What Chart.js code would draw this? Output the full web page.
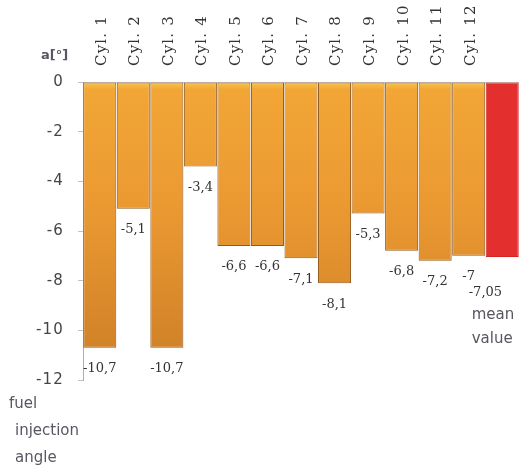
<!DOCTYPE html>
<html>
<head>
<meta charset="utf-8">
<script src="https://cdn.jsdelivr.net/npm/chart.js@4/dist/chart.umd.min.js"></script>
<style>
  html, body { margin: 0; padding: 0; background: #fff; }
  #wrap { width: 519px; height: 471px; position: relative; }
</style>
</head>
<body>
<div id="wrap"><canvas id="myChart"></canvas></div>
<script>
// DATA PART

var cylinders = ['Cyl. 1', 'Cyl. 2', 'Cyl. 3', 'Cyl. 4', 'Cyl. 5', 'Cyl. 6',
                 'Cyl. 7', 'Cyl. 8', 'Cyl. 9', 'Cyl. 10', 'Cyl. 11', 'Cyl. 12', ''];
var angles = [-10.7, -5.1, -10.7, -3.4, -6.6, -6.6, -7.1, -8.1, -5.3, -6.8, -7.2, -7, -7.05];
var meanIndex = 12;
var yTicks = [0, -2, -4, -6, -8, -10, -12];

// label helpers

function fmt(v){
    return String(v).replace('.', ',');
}

function barFill(context){
    var chart = context.chart;
    var area = chart.chartArea;
    if(context.dataIndex === meanIndex){
        return '#e3302f';
    }
    if(!area){
        return '#eb9a32';
    }
    var g = chart.ctx.createLinearGradient(0, area.top, 0, area.bottom);
    g.addColorStop(0, '#f8c650');
    g.addColorStop(0.025, '#f2a636');
    g.addColorStop(0.4, '#eb9a32');
    g.addColorStop(1, '#cd7d26');
    return g;
}

// PLUGIN PART

// the axis labels in the picture are spaced out a little
var spacing = {
    id: 'spacing',
    beforeDraw(chart){
        chart.ctx.letterSpacing = '1.2px';
    },
    afterDraw(chart){
        chart.ctx.letterSpacing = '0px';
    }
};

var valueLabels = {
    id: 'valueLabels',
    afterDatasetsDraw(chart){
        var ctx = chart.ctx;
        var meta = chart.getDatasetMeta(0);
        ctx.save();
        ctx.letterSpacing = '0px';
        ctx.fillStyle = '#333';
        ctx.font = '13px "DejaVu Serif", serif';
        ctx.textBaseline = 'middle';
        meta.data.forEach((bar, i) => {
            if(i === meanIndex){
                ctx.textAlign = 'left';
                var lx = bar.x - bar.width / 2 - 17;
                ctx.fillText(fmt(angles[i]), lx, bar.y + 36);
                ctx.fillStyle = '#5a5560';
                ctx.font = '15px "DejaVu Sans", sans-serif';
                ctx.fillText('mean', lx + 3, bar.y + 58);
                ctx.fillText('value', lx + 3, bar.y + 82);
            }else{
                ctx.textAlign = 'center';
                ctx.fillText(fmt(angles[i]), bar.x, bar.y + 21);
            }
        });

        // axis captions
        ctx.fillStyle = '#5a5560';
        ctx.font = '15px "DejaVu Sans", sans-serif';
        ctx.textAlign = 'left';
        ctx.fillText('fuel', 9, 404);
        ctx.fillText('injection', 15, 431);
        ctx.fillText('angle', 15, 458);
        ctx.font = 'bold 13px "DejaVu Sans", sans-serif';
        ctx.fillText('a[°]', 41, 56);
        ctx.restore();
    }
};

// CHART PART

var ctx = document.getElementById('myChart').getContext('2d');
var myChart = new Chart(ctx, {
    type: 'bar',
    data: {
        labels: cylinders,
        datasets: [{
            data: angles,
            backgroundColor: barFill,
            borderColor: (c) => c.dataIndex === meanIndex ? '#d42426' : '#94591c',
            borderWidth: 1,
            borderSkipped: false,
            barPercentage: 1,
            categoryPercentage: 0.985
        }]
    },
    options: {
        responsive: true,
        maintainAspectRatio: false,
        animation: false,
        layout: { padding: { top: 0, right: 0, bottom: 91, left: 0 } },
        plugins: {
            legend: { display: false },
            tooltip: { enabled: false }
        },
        scales: {
            x: {
                position: 'top',
                grid: { display: false },
                border: { display: true, color: '#c8c8c8', width: 1 },
                afterFit: (scale) => { scale.height = 82; },
                ticks: {
                    minRotation: 90,
                    maxRotation: 90,
                    autoSkip: false,
                    padding: 8,
                    labelOffset: 20,
                    color: '#333',
                    font: { family: '"DejaVu Serif", serif', size: 15 }
                }
            },
            y: {
                min: -12,
                max: 0,
                afterFit: (scale) => { scale.width = 83; },
                afterBuildTicks: (scale) => {
                    scale.ticks = yTicks.map(v => ({ value: v }));
                },
                grid: {
                    drawOnChartArea: false,
                    drawTicks: true,
                    tickLength: 5,
                    color: '#c0c0c0'
                },
                border: { display: true, color: '#b0b0b0', width: 1 },
                ticks: {
                    padding: 14,
                    color: '#444',
                    font: { family: '"DejaVu Sans", sans-serif', size: 15 }
                }
            }
        }
    },
    plugins: [spacing, valueLabels]
});
</script>
</body>
</html>
